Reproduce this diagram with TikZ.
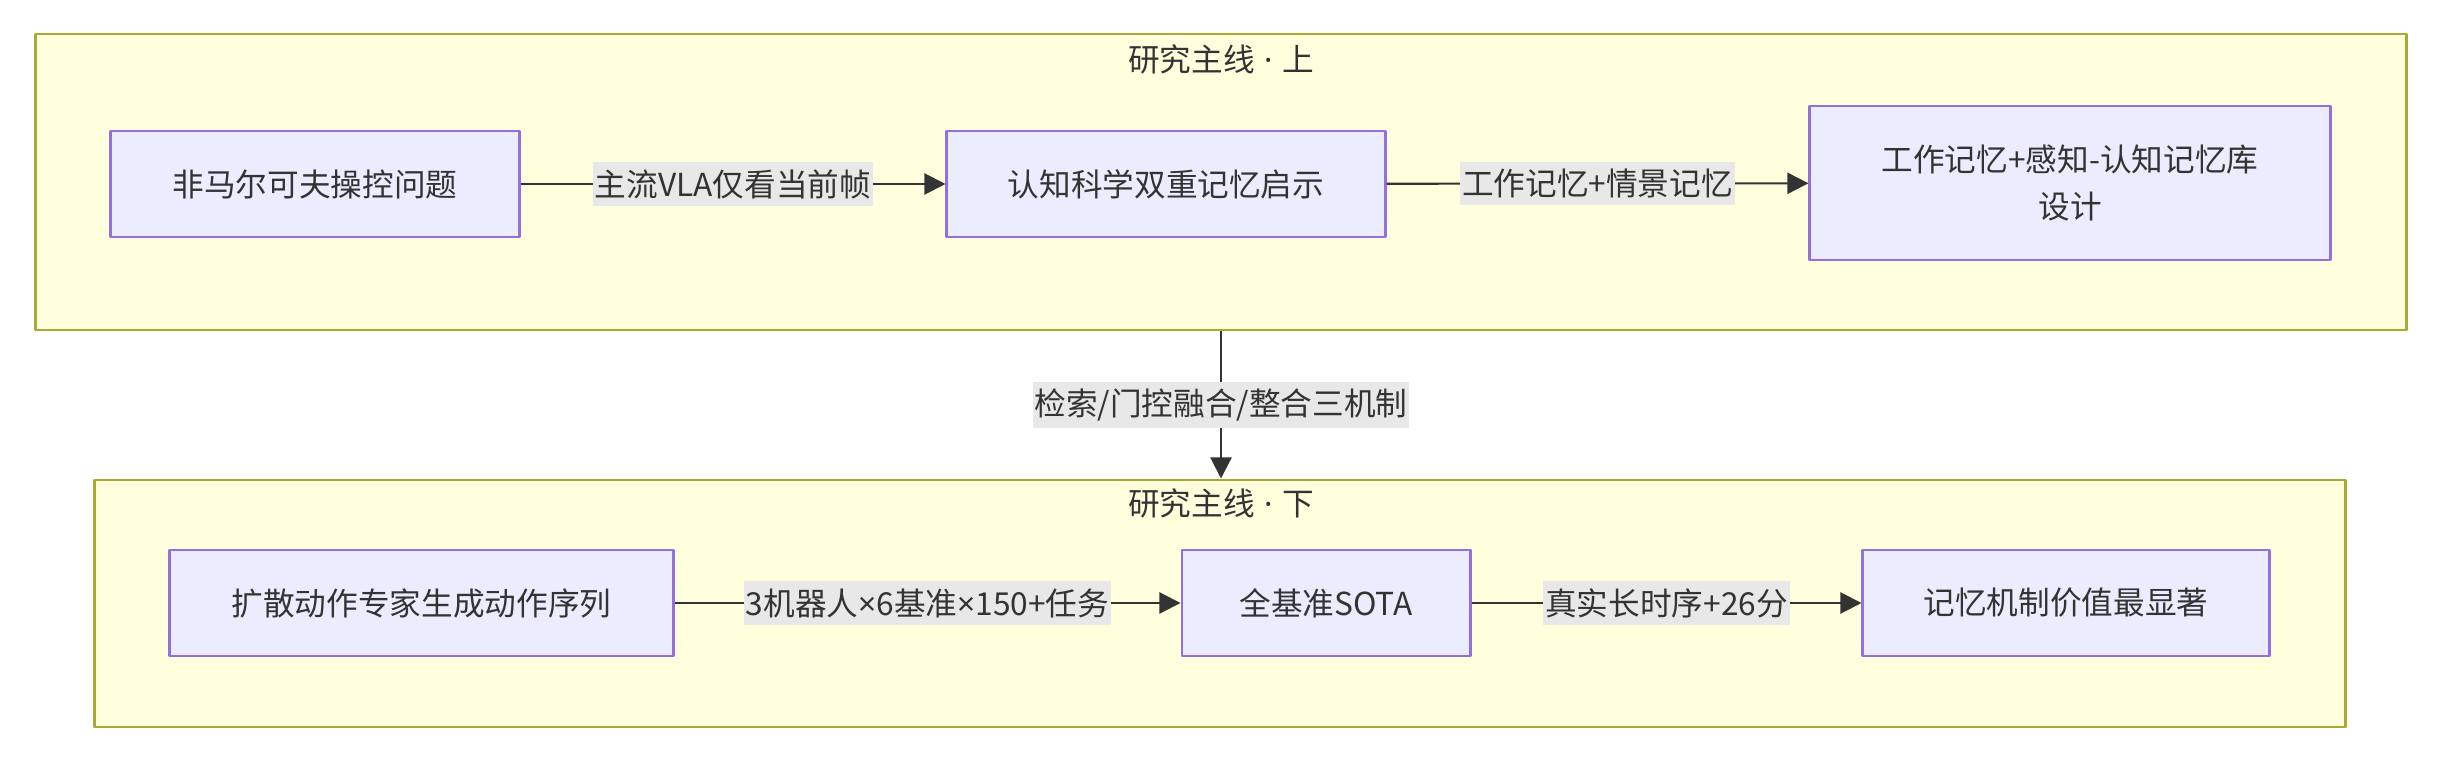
\documentclass[tikz,border=0pt]{standalone}
\usepackage{fontspec}
\setmainfont{Noto Sans CJK SC}
\newfontfamily\latfont{Noto Sans}
\usetikzlibrary{arrows.meta}
\definecolor{clfill}{HTML}{FFFFDE}
\definecolor{cldraw}{HTML}{AAAA33}
\definecolor{ndfill}{HTML}{ECECFF}
\definecolor{nddraw}{HTML}{9370DB}
\definecolor{lnclr}{HTML}{333333}
\definecolor{lbfill}{HTML}{E8E8E8}
\newcommand\tms{{\latfont ×}}
\newcommand\mdot{{\latfont\hspace{0.3em}·\hspace{0.3em}}}
\begin{document}
\begin{tikzpicture}[x=0.01cm,y=-0.01cm,line join=round,>={Triangle[length=6pt,width=6pt]},font=\fontsize{9}{13.3}\selectfont]
	\tikzset{clbox/.style={draw=cldraw,fill=clfill,line width=0.8pt,inner sep=0pt},
		ndbox/.style={draw=nddraw,fill=ndfill,line width=0.8pt,text=lnclr,align=center,minimum height=1.06cm,inner sep=0pt},
		eglbl/.style={fill=lbfill,text=lnclr,inner xsep=0.5pt,inner ysep=2pt},
		edge/.style={draw=lnclr,line width=0.6pt,->}}
	\useasboundingbox (0,0) rectangle (2442,764);
	\node[clbox,minimum width=23.70cm,minimum height=2.96cm] (top) at (1221,182) {};
	\node[clbox,minimum width=22.50cm,minimum height=2.47cm] (bot) at (1220,603.5) {};
	\node[text=lnclr] (toptl) at (1221,59) {研究主线\mdot 上};
	\node[text=lnclr] (bottl) at (1221,503) {研究主线\mdot 下};
	\node[ndbox,minimum width=4.08cm] (nmdp) at (315,184) {非马尔可夫操控问题};
	\node[ndbox,minimum width=4.38cm] (cogs) at (1166,184) {认知科学双重记忆启示};
	\node[ndbox,minimum width=5.20cm,minimum height=1.54cm] (mbnk) at (2070,183) {工作记忆+感知-认知记忆库\\设计};
	\node[ndbox,minimum width=5.03cm] (dexp) at (421.5,603) {扩散动作专家生成动作序列};
	\node[ndbox,minimum width=2.88cm] (sota) at (1326,603) {全基准SOTA};
	\node[ndbox,minimum width=4.06cm] (memv) at (2066,603) {记忆机制价值最显著};
	\foreach \a/\b/\t in {nmdp/cogs/主流VLA仅看当前帧,cogs/mbnk/工作记忆+情景记忆,dexp/sota/3机器人\tms 6基准\tms 150+任务,sota/memv/真实长时序+26分}
	\draw[edge] (\a) -- node[eglbl] {\t} (\b);
	\draw[edge] (top.south) -- node[eglbl] {检索/门控融合/整合三机制} (top.south |- bot.north);
\end{tikzpicture}
\end{document}
